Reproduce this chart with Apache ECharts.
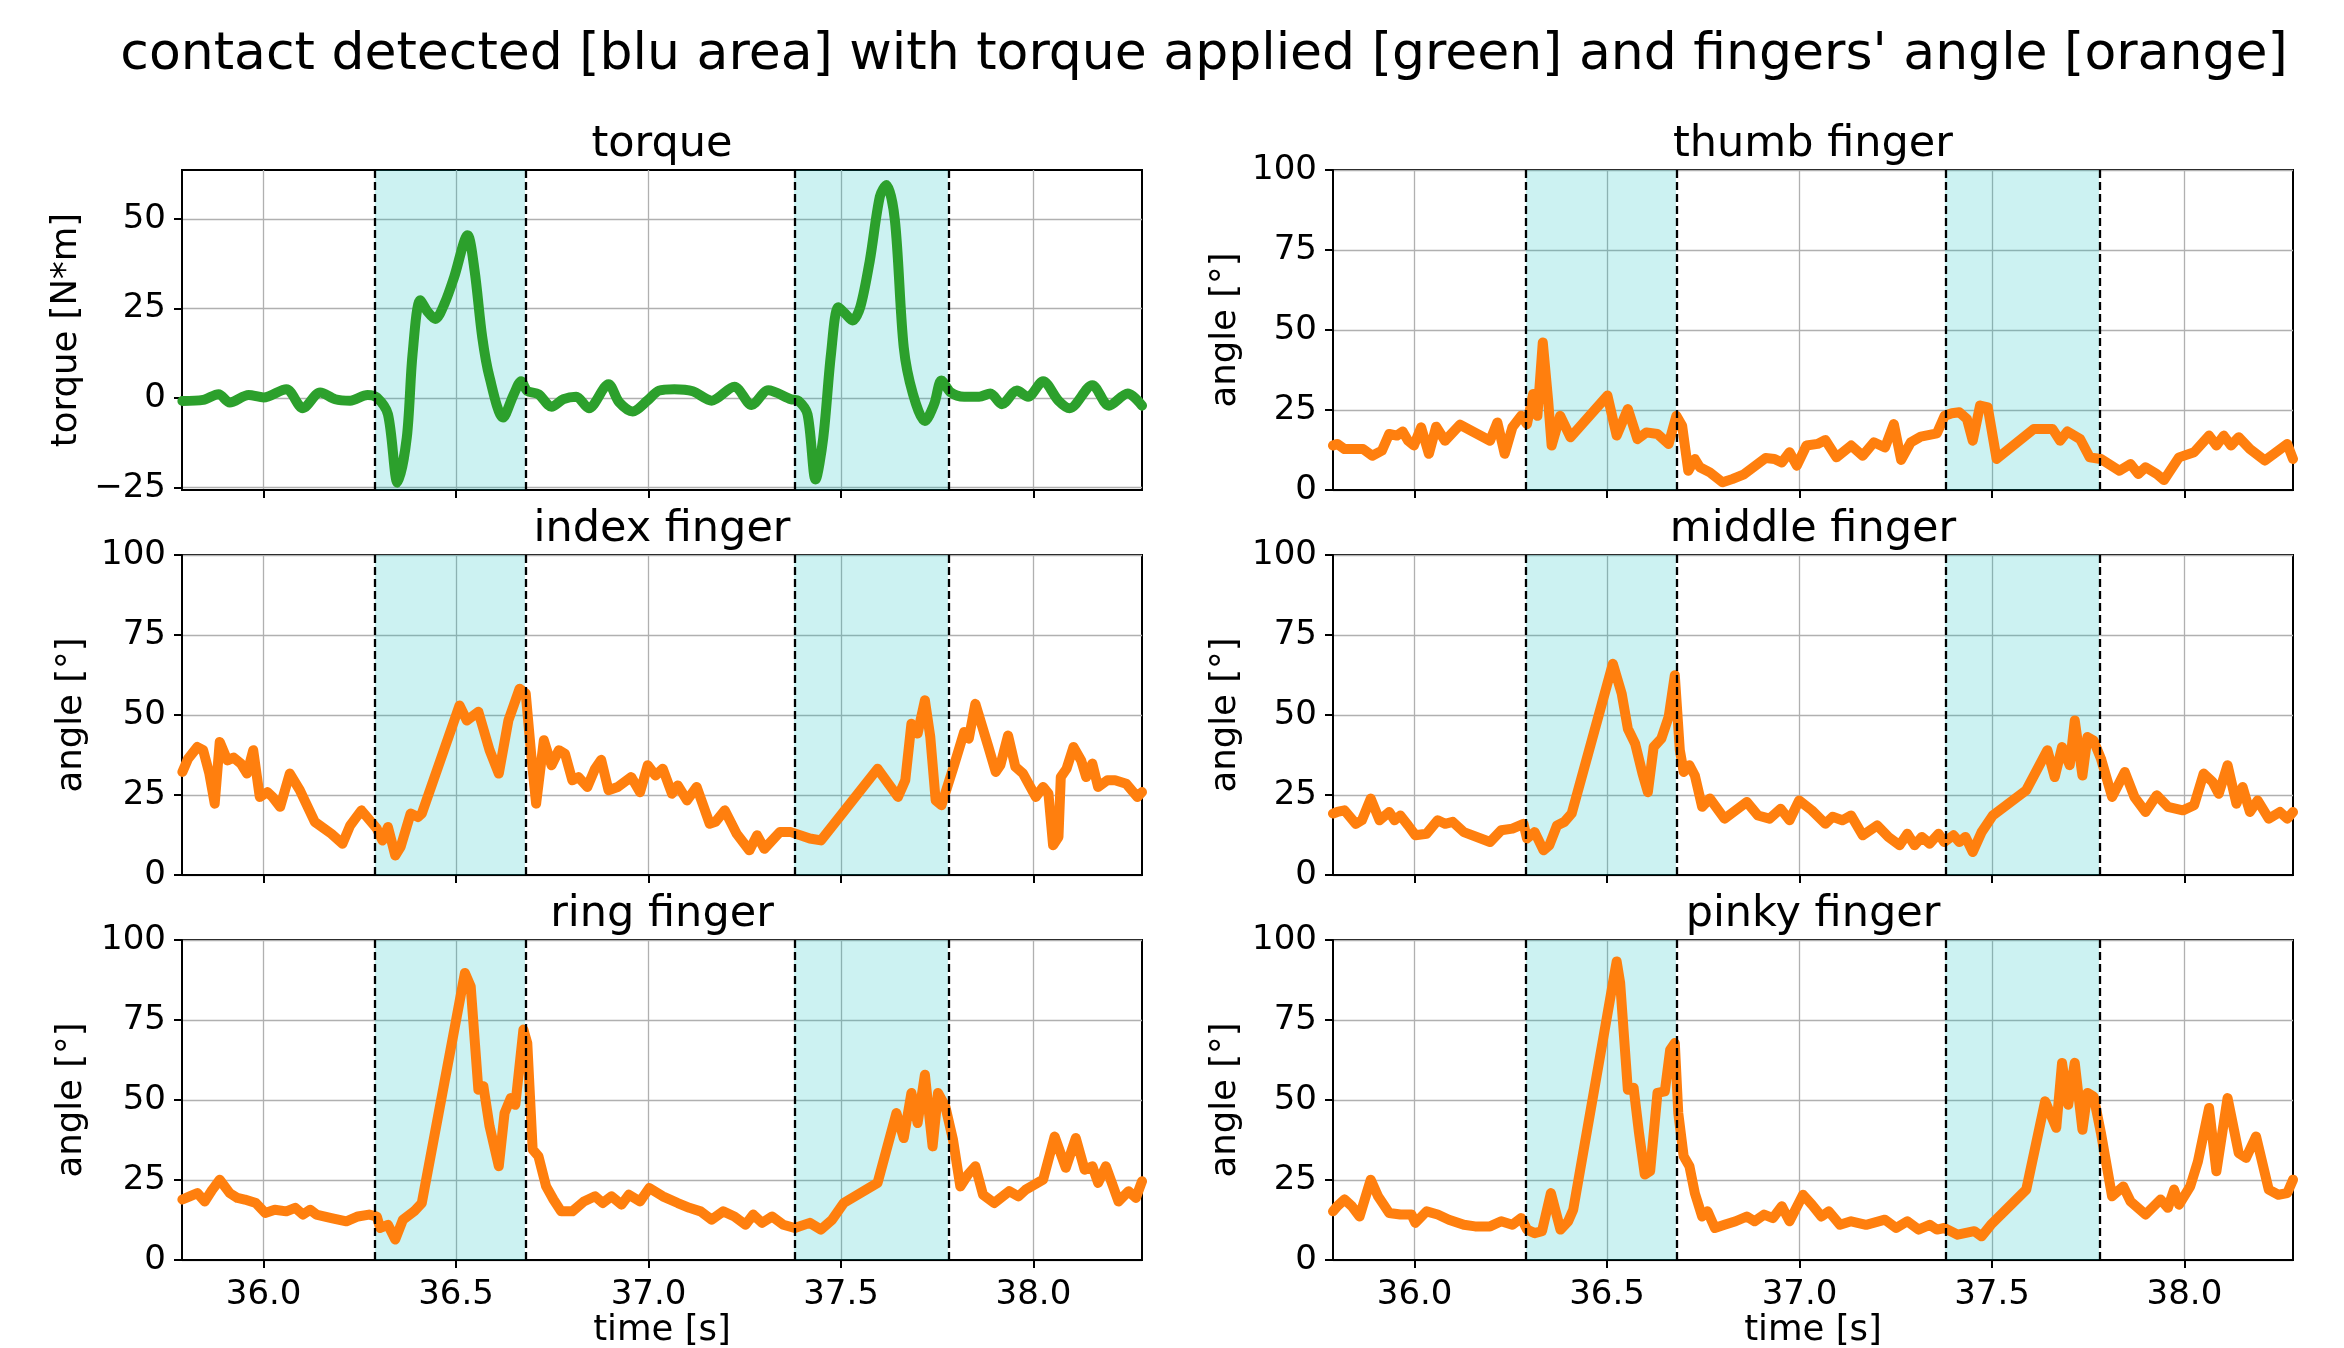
<!DOCTYPE html>
<html><head><meta charset="utf-8">
<script src="https://cdn.jsdelivr.net/npm/echarts@6/dist/echarts.min.js"></script>
<style>html,body{margin:0;padding:0;background:#fff}#c{width:2344px;height:1348px}</style>
</head><body><div id="c"></div>
<script>
const suptitle = "contact detected [blu area] with torque applied [green] and fingers' angle [orange]";
const panelTitles = ['torque','thumb finger','index finger','middle finger','ring finger','pinky finger'];
const yNames = ['torque [N*m]','angle [°]','angle [°]','angle [°]','angle [°]','angle [°]'];
const xTicks = [36.0, 36.5, 37.0, 37.5, 38.0];
const torqueTicks = [-25, 0, 25, 50];
const angleTicks = [0, 25, 50, 75, 100];
const contactStart = [36.289, 37.378];
const contactEnd = [36.679, 37.778];

const torqueT = [35.789,35.843,35.883,35.912,35.961,36.000,36.059,36.102,36.147,36.186,36.225,36.270,36.294,36.323,36.348,36.372,36.387,36.407,36.427,36.446,36.470,36.495,36.530,36.548,36.568,36.587,36.622,36.650,36.669,36.685,36.714,36.748,36.779,36.812,36.845,36.896,36.924,36.959,36.998,37.027,37.067,37.115,37.164,37.223,37.268,37.311,37.370,37.389,37.413,37.434,37.454,37.474,37.493,37.511,37.530,37.550,37.575,37.601,37.618,37.640,37.663,37.687,37.718,37.742,37.761,37.785,37.820,37.859,37.888,37.918,37.957,37.986,38.025,38.065,38.094,38.153,38.196,38.245,38.282];
const torqueV = [-0.8,-0.5,1.1,-1.2,0.9,0.2,2.5,-2.8,1.6,-0.3,-0.7,0.9,0.2,-4.5,-23.6,-11,12.3,27.3,24,22.1,26.4,33.8,45.5,35.7,17,5.8,-5.4,1.1,4.7,2,1.1,-2.4,-0.3,0.4,-2.8,3.9,-1.2,-3.7,-0.6,2.1,2.5,1.9,-0.7,3.2,-1.9,2.2,-0.3,-0.7,-4.5,-22.7,-11,12.3,25.4,23.6,21.7,25.4,38.5,56.3,59.5,49.7,14.2,1.1,-6.4,-1.7,4.9,1.6,0.4,0.4,1.3,-1.7,2.1,0.4,4.7,-0.7,-2.8,3.6,-2.1,1.3,-2.1];

const thumbT = [35.788,35.799,35.818,35.866,35.890,35.915,35.934,35.954,35.969,35.983,35.998,36.017,36.037,36.056,36.079,36.118,36.196,36.215,36.234,36.254,36.277,36.292,36.308,36.319,36.333,36.347,36.356,36.378,36.405,36.501,36.525,36.554,36.579,36.602,36.631,36.660,36.680,36.695,36.711,36.728,36.741,36.767,36.800,36.825,36.854,36.912,36.935,36.954,36.974,36.993,37.018,37.047,37.067,37.096,37.134,37.164,37.193,37.222,37.245,37.264,37.289,37.315,37.357,37.377,37.396,37.415,37.435,37.450,37.469,37.489,37.512,37.609,37.657,37.677,37.696,37.729,37.754,37.783,37.831,37.860,37.880,37.899,37.928,37.947,37.986,38.025,38.064,38.083,38.102,38.121,38.141,38.170,38.209,38.238,38.267,38.282];
const thumbV = [13.9,14.4,12.8,12.8,10.7,12.3,17.5,17,18.3,15.4,13.9,19.6,11.3,19.8,15.4,20.4,15.4,21.1,11.3,19.6,23.2,20.6,30,23.2,46.1,27.9,13.9,23.2,16.5,29.5,17,25.3,15.9,18,17.5,14.4,23.2,20.1,6,9.7,7.1,5.5,2.4,3.4,4.8,10,9.7,8.6,11.8,7.6,13.9,14.4,15.6,10.2,13.9,10.7,14.9,13.3,20.6,9.4,14.9,16.7,17.7,23.2,24,24.3,22.2,15.4,26.4,25.8,9.7,19.1,19.1,15.4,18.3,15.9,10.2,9.7,6,8.1,5,7.1,5,3.1,10.2,11.8,17,13.9,17,13.9,16.5,12.8,9.2,11.8,14.4,9.7];

const indexT = [35.789,35.804,35.828,35.843,35.859,35.873,35.886,35.906,35.922,35.941,35.957,35.973,35.990,36.010,36.023,36.043,36.068,36.094,36.133,36.176,36.205,36.225,36.254,36.294,36.309,36.323,36.342,36.356,36.382,36.401,36.411,36.509,36.528,36.558,36.587,36.611,36.636,36.665,36.681,36.695,36.708,36.728,36.748,36.767,36.783,36.802,36.818,36.841,36.861,36.877,36.896,36.920,36.955,36.978,36.998,37.018,37.037,37.061,37.076,37.100,37.125,37.159,37.174,37.198,37.229,37.262,37.282,37.301,37.341,37.370,37.419,37.448,37.503,37.595,37.648,37.667,37.683,37.699,37.718,37.732,37.746,37.761,37.791,37.820,37.832,37.849,37.883,37.902,37.914,37.934,37.953,37.973,38.006,38.025,38.039,38.051,38.065,38.071,38.086,38.104,38.124,38.137,38.153,38.168,38.192,38.212,38.241,38.270,38.282];
const indexV = [32.2,36.4,40,39,31.7,22.3,41.6,35.8,36.7,34.8,31.7,39,24.4,25.9,24.4,21.3,31.7,26.5,16.6,12.9,9.8,15.5,20.2,14.5,10.8,15,6.1,8.8,19.2,18.1,19.2,53,48.3,51,39,31.7,48.3,58.2,56.7,37.9,22.3,42.1,34.3,39,37.9,29.6,30.6,27.5,33.2,36,26.5,27.5,30.6,25.9,34.3,31.1,33.2,25.4,28,23.3,27.5,16,16.6,20.2,12.9,7.7,12.4,8.2,13.4,13.4,11.4,10.8,19.2,33.2,24.4,29.6,47.3,44.2,54.6,43.1,23.3,21.8,33.2,44.7,42.6,53.5,40,32.2,34.3,43.6,33.8,31.7,24.4,27.5,25.4,9.3,11.9,30.6,33.2,40,35.8,30.6,34.8,27.5,29.6,29.6,28.5,24.4,25.9];

const middleT = [35.788,35.799,35.818,35.847,35.863,35.886,35.909,35.934,35.948,35.963,35.983,36.002,36.031,36.060,36.079,36.099,36.128,36.196,36.225,36.254,36.283,36.292,36.312,36.335,36.350,36.370,36.389,36.408,36.515,36.538,36.554,36.573,36.592,36.606,36.621,36.641,36.660,36.676,36.689,36.699,36.714,36.728,36.747,36.767,36.805,36.863,36.892,36.922,36.951,36.974,36.999,37.032,37.067,37.086,37.111,37.134,37.164,37.202,37.231,37.260,37.280,37.299,37.318,37.338,37.361,37.376,37.400,37.415,37.431,37.450,37.473,37.502,37.589,37.644,37.663,37.682,37.702,37.715,37.735,37.748,37.764,37.783,37.812,37.845,37.870,37.899,37.928,37.957,37.996,38.025,38.050,38.073,38.089,38.112,38.135,38.151,38.170,38.190,38.219,38.248,38.267,38.282];
const middleV = [19.2,19.7,20.2,16,17.1,23.9,17.1,19.7,17.1,18.6,15.5,12.4,12.9,17.1,16,16.6,13.4,10.3,14,14.5,16,11.4,13.4,7.7,9.3,15.5,16.6,19.2,66,56.7,45.7,41,31.7,25.9,40,42.6,49.4,62.4,39,32.2,34.3,31.1,21.3,23.9,17.6,22.8,18.6,17.6,20.7,17.1,23.3,20.2,16,18.2,17.1,18.6,12.4,15.5,11.9,9.3,12.9,9.3,11.9,9.8,12.9,10.3,12.4,10.3,11.9,7.2,13.4,18.6,26.5,39,30.6,40,34.3,48.3,31.1,43.1,42,36.4,24.4,32.2,24.4,19.7,24.9,21.3,20.2,21.8,31.7,29.1,25.4,34.3,22.3,27.5,19.7,23.3,17.6,19.7,17.6,19.7];

const ringT = [35.789,35.808,35.828,35.847,35.867,35.886,35.912,35.932,35.951,35.980,36.004,36.029,36.059,36.082,36.102,36.121,36.137,36.176,36.215,36.245,36.274,36.294,36.303,36.323,36.342,36.362,36.391,36.411,36.523,36.538,36.558,36.571,36.587,36.611,36.626,36.642,36.654,36.675,36.685,36.699,36.714,36.734,36.753,36.773,36.802,36.832,36.861,36.881,36.904,36.930,36.949,36.978,37.002,37.037,37.076,37.106,37.135,37.164,37.194,37.223,37.252,37.272,37.295,37.321,37.350,37.380,37.419,37.448,37.477,37.507,37.595,37.644,37.663,37.683,37.699,37.718,37.738,37.752,37.771,37.791,37.810,37.830,37.849,37.869,37.898,37.937,37.961,37.980,38.025,38.055,38.084,38.110,38.133,38.153,38.168,38.188,38.221,38.247,38.266,38.282];
const ringV = [18.9,19.9,20.9,18.3,22,25.1,20.9,19.4,18.9,17.8,14.7,15.7,15.2,16.3,14.2,15.7,14.2,13.1,12.1,13.6,14.2,13.6,10,11,6.4,12.6,15.2,17.8,89.7,85.5,53.2,54.3,41.8,29.3,45.9,50.6,48.5,72,67.8,34.5,32.4,23,18.9,15.2,15.2,18.3,19.9,17.8,19.9,17.3,20.4,18.3,22.5,19.9,17.8,16.3,15.2,12.6,15.2,13.6,11,14.2,11.6,13.6,11,10,11.6,9.5,12.6,17.8,24.1,45.9,38.1,52.2,42.8,57.9,35.5,52.2,48,37.6,23,26.7,29.3,20.4,17.8,21.5,19.9,22,25.1,38.6,28.8,38.1,28.2,29.3,24.1,29.3,18.3,21.5,19.4,24.6];

const pinkyT = [35.788,35.799,35.818,35.837,35.857,35.886,35.905,35.934,35.963,35.992,36.002,36.031,36.060,36.089,36.128,36.157,36.196,36.225,36.254,36.277,36.292,36.312,36.331,36.354,36.379,36.399,36.412,36.525,36.534,36.554,36.569,36.583,36.598,36.612,36.631,36.650,36.664,36.676,36.685,36.699,36.714,36.728,36.747,36.761,36.780,36.805,36.834,36.863,36.883,36.908,36.931,36.954,36.974,37.009,37.032,37.057,37.076,37.105,37.134,37.173,37.222,37.251,37.280,37.309,37.338,37.357,37.376,37.411,37.454,37.473,37.497,37.589,37.638,37.667,37.682,37.698,37.715,37.735,37.748,37.764,37.783,37.812,37.841,37.860,37.899,37.938,37.957,37.973,37.986,38.015,38.035,38.064,38.083,38.112,38.141,38.160,38.186,38.219,38.244,38.267,38.282];
const pinkyV = [15.2,16.8,18.9,16.8,13.6,25.1,19.9,14.7,14.2,14.2,11.6,15.2,14.2,12.6,11,10.5,10.5,12.1,11,13.1,9.5,8.4,9,20.9,9.5,12.1,15.7,93.3,86.6,53.2,53.8,39.7,26.7,27.8,52.2,52.7,65.7,67.8,45.9,32.4,29.3,20.9,13.6,15.2,10,11,12.1,13.6,12.1,14.2,13.1,16.8,12.1,20.4,17.3,13.6,15.2,11,12.1,11,12.6,10,12.1,9.5,11,9.5,10,7.9,9,7.4,11,22,49.6,41.3,61.6,48.5,61.6,40.7,52.2,51.1,39.7,19.9,23,18.3,14.2,18.9,16.3,22,17.3,23,30.8,47.5,27.7,50.6,33.4,31.9,38.6,22,20.4,20.9,25.1];

const X_MIN = 35.788, X_MAX = 38.282;
const TORQUE_MIN = -25.65, TORQUE_MAX = 63.7;

const seriesT = [torqueT, thumbT, indexT, middleT, ringT, pinkyT];
const seriesV = [torqueV, thumbV, indexV, middleV, ringV, pinkyV];

const FONT = 'DejaVu Sans';
const LEFTS = [182, 1333], TOPS = [170, 555, 940], W = 960, H = 320;
const GREEN = '#2ca02c', ORANGE = '#ff7f0e';

function pairs(t, v) { const n = Math.min(t.length, v.length); const out = []; for (let i = 0; i < n; i++) out.push([t[i], v[i]]); return out; }

const grids = [], xAxes = [], yAxes = [], series = [], graphics = [];
graphics.push({type:'text', x:1204, y:55, style:{text:suptitle, fontSize:52, fontFamily:FONT, fill:'#000', align:'center', verticalAlign:'middle'}});

for (let i = 0; i < 6; i++) {
  const row = Math.floor(i / 2), col = i % 2;
  const left = LEFTS[col], top = TOPS[row];
  const isTorque = i === 0;
  grids.push({left, top, width: W, height: H, show: true, borderColor: '#000', borderWidth: 2, backgroundColor: 'transparent', containLabel: false, outerBoundsMode: 'none'});
  graphics.push({type:'text', x: left + W / 2, y: top - 25, style:{text: panelTitles[i], fontSize: 43, fontFamily: FONT, fill:'#000', align:'center', verticalAlign:'middle'}});
  xAxes.push({
    type:'value', gridIndex:i, min:X_MIN, max:X_MAX, minInterval:0.5, maxInterval:0.5,
    axisLine:{show:true, onZero:false, lineStyle:{color:'#000', width:2}},
    axisTick:{show:true, length:8, customValues: xTicks, lineStyle:{color:'#000', width:2}},
    axisLabel:{show: row === 2, customValues: xTicks, fontSize:34, fontFamily:FONT, color:'#000', margin:18, formatter: v => v.toFixed(1)},
    splitLine:{show:true, lineStyle:{color:'#b0b0b0', width:1.3}},
    name: row === 2 ? 'time [s]' : '', nameLocation:'middle', nameGap:51,
    nameTextStyle:{fontSize:35.5, fontFamily:FONT, color:'#000'}
  });
  const yTicks = isTorque ? torqueTicks : angleTicks;
  yAxes.push({
    type:'value', gridIndex:i,
    min: isTorque ? TORQUE_MIN : 0, max: isTorque ? TORQUE_MAX : 100,
    minInterval:25, maxInterval:25,
    axisLine:{show:true, onZero:false, lineStyle:{color:'#000', width:2}},
    axisTick:{show:true, length:8, customValues: yTicks, lineStyle:{color:'#000', width:2}},
    axisLabel:{show:true, customValues: yTicks, fontSize:34, fontFamily:FONT, color:'#000', margin:16, formatter: v => String(v).replace('-', '\u2212')},
    splitLine:{show:true, lineStyle:{color:'#b0b0b0', width:1.3}},
    name: yNames[i], nameLocation:'middle', nameGap: isTorque ? 97 : (col === 0 ? 92 : 89),
    nameTextStyle:{fontSize:35.5, fontFamily:FONT, color:'#000'}
  });
  series.push({
    type:'line', xAxisIndex:i, yAxisIndex:i, data: pairs(seriesT[i], seriesV[i]),
    showSymbol:false, symbol:'none', smooth: isTorque ? 0.3 : false, clip:true,
    lineStyle:{color: isTorque ? GREEN : ORANGE, width:10, join:'round', cap:'round'},
    z: 3,
    markArea:{silent:true, itemStyle:{color:'rgba(0,191,191,0.2)'},
      data: contactStart.map((s, k) => [{xAxis: s}, {xAxis: contactEnd[k]}])},
    markLine:{silent:true, symbol:['none','none'], label:{show:false}, animation:false,
      lineStyle:{color:'#000', type:[8,4], width:2.3},
      data: contactStart.concat(contactEnd).map(x => ({xAxis: x}))}
  });
}

const chart = echarts.init(document.getElementById('c'), null, {renderer:'canvas'});
chart.setOption({
  animation:false, backgroundColor:'#fff',
  grid: grids, xAxis: xAxes, yAxis: yAxes, series: series, graphic: graphics
});
</script>
</body></html>
